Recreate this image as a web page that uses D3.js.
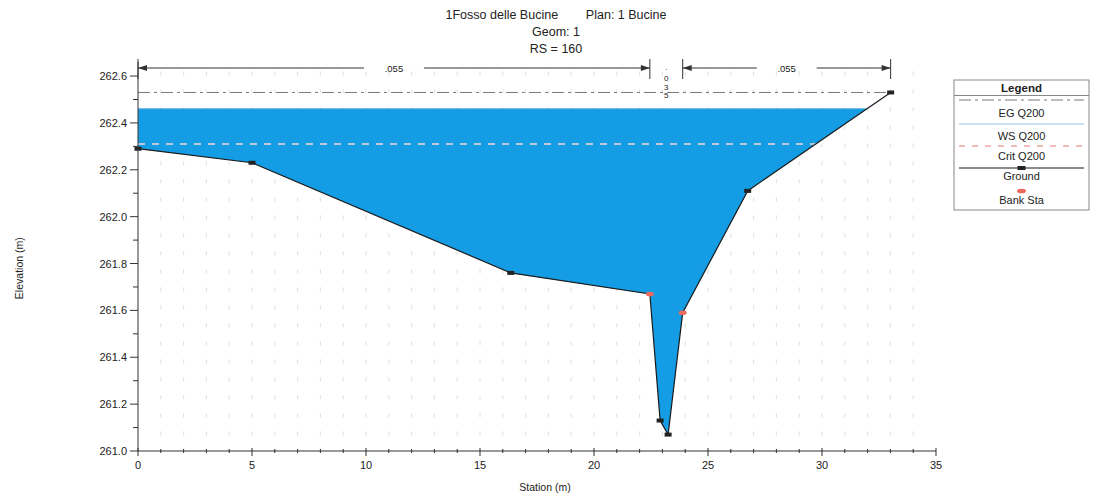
<!DOCTYPE html>
<html><head><meta charset="utf-8">
<script src="https://cdn.jsdelivr.net/npm/d3@7"></script>
<style>
body{margin:0;background:#fff;}
text{font-family:"Liberation Sans",Arial,sans-serif;fill:#222;}
</style></head>
<body><svg id="c" width="1094" height="499"></svg>
<script>
// ---- data ----
const titleLines = ["1Fosso delle Bucine        Plan: 1 Bucine", "Geom: 1", "RS = 160"];
const groundStation = [0, 5.0, 16.35, 22.45, 22.9, 23.25, 23.89, 26.74, 33.01];
const groundElev = [262.29, 262.23, 261.76, 261.67, 261.13, 261.07, 261.59, 262.11, 262.53];
const bankStations = [22.45, 23.89];
const wsElev = 262.46;
const egElev = 262.53;
const critElev = 262.31;
const nStations = [0, 22.45, 23.89, 33.01];
const nValues = [".055", ".035", ".055"];
const xTicks = [0, 5, 10, 15, 20, 25, 30, 35];
const yTicks = [261.0, 261.2, 261.4, 261.6, 261.8, 262.0, 262.2, 262.4, 262.6];
const legendLabels = ["EG Q200", "WS Q200", "Crit Q200", "Ground", "Bank Sta"];

const svg = d3.select("#c");
const x = d3.scaleLinear().domain([0, 35]).range([138, 936]);
const y = d3.scaleLinear().domain([261.0, 262.66]).range([451, 62]);

const ground = groundStation.map((s, i) => ({s, e: groundElev[i]}));

// intersection of horizontal level with ground (rightmost crossing)
function crossRight(level) {
  for (let i = ground.length - 2; i >= 0; i--) {
    const a = ground[i], b = ground[i + 1];
    if ((a.e - level) * (b.e - level) <= 0 && a.e !== b.e) {
      return a.s + (level - a.e) / (b.e - a.e) * (b.s - a.s);
    }
  }
  return ground[ground.length - 1].s;
}

// title
titleLines.forEach((t, i) => {
  svg.append("text").attr("x", 556).attr("y", 19 + i * 17).attr("text-anchor", "middle")
    .attr("font-size", 12.5).style("white-space", "pre").text(t);
});

// grid (faint vertical dotted)
const g = svg.append("g");
d3.range(1, 35).forEach(v => {
  g.append("line").attr("x1", x(v)).attr("x2", x(v)).attr("y1", y(262.62)).attr("y2", y(261.0))
    .attr("stroke", "#d6d6d6").attr("stroke-width", 0.8).attr("stroke-dasharray", "4,14");
});

// water fill
const wsRight = crossRight(wsElev);
const poly = [{s: 0, e: wsElev}];
ground.forEach(p => { if (p.s < wsRight && p.e < wsElev) poly.push(p); });
poly.push({s: wsRight, e: wsElev});
svg.append("path").datum(poly)
  .attr("d", d3.line().x(d => x(d.s)).y(d => y(d.e)).curve(d3.curveLinearClosed))
  .attr("fill", "#149ce4").attr("stroke", "none");
svg.append("line").attr("x1", x(0)).attr("x2", x(wsRight)).attr("y1", y(wsElev)).attr("y2", y(wsElev))
  .attr("stroke", "#4aa8d8").attr("stroke-width", 1);

// crit line
const critRight = crossRight(critElev);
svg.append("line").attr("x1", x(0)).attr("x2", x(critRight)).attr("y1", y(critElev)).attr("y2", y(critElev))
  .attr("stroke", "#f1d6d2").attr("stroke-width", 1.4).attr("stroke-dasharray", "7,7");

// EG line
svg.append("line").attr("x1", x(0)).attr("x2", x(groundStation[groundStation.length - 1])).attr("y1", y(egElev)).attr("y2", y(egElev))
  .attr("stroke", "#7a7a7a").attr("stroke-width", 1).attr("stroke-dasharray", "12,4,3,4");

// ground line
svg.append("path").datum(ground)
  .attr("d", d3.line().x(d => x(d.s)).y(d => y(d.e)))
  .attr("fill", "none").attr("stroke", "#1a1a1a").attr("stroke-width", 1.2);
svg.selectAll(".gm").data(ground.filter(p => !bankStations.includes(p.s))).enter().append("rect")
  .attr("x", d => x(d.s) - 3.5).attr("y", d => y(d.e) - 2).attr("width", 7).attr("height", 4)
  .attr("fill", "#222");
svg.selectAll(".bm").data(ground.filter(p => bankStations.includes(p.s))).enter().append("ellipse")
  .attr("cx", d => x(d.s)).attr("cy", d => y(d.e)).attr("rx", 4).attr("ry", 2.3)
  .attr("fill", "#ec6a5e");

// axes
const xAxis = svg.append("g").attr("transform", `translate(0,${y(261.0)})`);
xAxis.append("line").attr("x1", x(0)).attr("x2", x(35)).attr("stroke", "#333");
d3.range(0, 36).forEach(v => {
  const major = v % 5 === 0;
  xAxis.append("line").attr("x1", x(v)).attr("x2", x(v)).attr("y1", major ? -3 : -2).attr("y2", major ? 5 : 2).attr("stroke", "#333");
});
xTicks.forEach(v => {
  xAxis.append("text").attr("x", x(v)).attr("y", 18).attr("text-anchor", "middle").attr("font-size", 11).text(v);
});
svg.append("text").attr("x", 545).attr("y", 491).attr("text-anchor", "middle").attr("font-size", 10.5).text("Station (m)");

const yAxis = svg.append("g").attr("transform", `translate(${x(0)},0)`);
yAxis.append("line").attr("y1", y(261.0)).attr("y2", y(262.66)).attr("stroke", "#333");
d3.range(0, 17).forEach(i => {
  const v = 261.0 + i * 0.1;
  const major = i % 2 === 0;
  yAxis.append("line").attr("x1", major ? -8 : -5).attr("x2", 0).attr("y1", y(v)).attr("y2", y(v)).attr("stroke", "#333");
});
yTicks.forEach(v => {
  yAxis.append("text").attr("x", -11).attr("y", y(v) + 4).attr("text-anchor", "end").attr("font-size", 11).text(v.toFixed(1));
});
svg.append("text").attr("transform", `translate(23,${y(261.78)}) rotate(-90)`).attr("text-anchor", "middle")
  .attr("font-size", 10.5).text("Elevation (m)");

// Manning's n markers
const nY = 68;
nStations.forEach(s => {
  svg.append("line").attr("x1", x(s)).attr("x2", x(s)).attr("y1", 59).attr("y2", 79).attr("stroke", "#333");
});
function arrowHead(px, dir) {
  svg.append("path").attr("d", `M${px},${nY} l${-dir * 9},-3 l0,6 z`).attr("fill", "#333");
}
nValues.forEach((t, i) => {
  const a = x(nStations[i]), b = x(nStations[i + 1]);
  const mid = (a + b) / 2;
  if (b - a > 60) {
    svg.append("line").attr("x1", a).attr("x2", mid - 30).attr("y1", nY).attr("y2", nY).attr("stroke", "#333");
    svg.append("line").attr("x1", mid + 30).attr("x2", b).attr("y1", nY).attr("y2", nY).attr("stroke", "#333");
    arrowHead(a, -1); arrowHead(b, 1);
    svg.append("text").attr("x", mid).attr("y", nY + 4).attr("text-anchor", "middle").attr("font-size", 9.5).text(t);
  } else {
    // vertical stacked label, one character per line
    const chars = t.split("");
    const pos = [70, 81, 89.5, 98];
    chars.forEach((ch, k) => {
      svg.append("text").attr("x", mid).attr("y", pos[k]).attr("text-anchor", "middle")
        .attr("font-size", 8).text(ch);
    });
  }
});

// legend
const L = svg.append("g");
const lx = 954, lw = 135, ly = 80, lh = 130;
L.append("rect").attr("x", lx).attr("y", ly).attr("width", lw).attr("height", lh).attr("fill", "#fff").attr("stroke", "#888");
L.append("text").attr("x", lx + lw / 2).attr("y", ly + 12).attr("text-anchor", "middle").attr("font-size", 11.5).attr("font-weight", "bold").text("Legend");
L.append("line").attr("x1", lx).attr("x2", lx + lw).attr("y1", ly + 15.5).attr("y2", ly + 15.5).attr("stroke", "#888");
const symY = [100, 124, 146, 168, 191];
const txtY = [117, 140, 160, 180, 204];
const lx1 = lx + 5, lx2 = lx + lw - 5, lmid = lx + lw / 2;
L.append("line").attr("x1", lx1).attr("x2", lx2).attr("y1", symY[0]).attr("y2", symY[0]).attr("stroke", "#7a7a7a").attr("stroke-dasharray", "12,4,3,4");
L.append("line").attr("x1", lx1).attr("x2", lx2).attr("y1", symY[1]).attr("y2", symY[1]).attr("stroke", "#8fc6e0");
L.append("line").attr("x1", lx1).attr("x2", lx2).attr("y1", symY[2]).attr("y2", symY[2]).attr("stroke", "#f0a8a0").attr("stroke-width", 1.4).attr("stroke-dasharray", "6,7");
L.append("line").attr("x1", lx1).attr("x2", lx2).attr("y1", symY[3]).attr("y2", symY[3]).attr("stroke", "#1a1a1a").attr("stroke-width", 1.2);
L.append("rect").attr("x", lmid - 4).attr("y", symY[3] - 2).attr("width", 8).attr("height", 4).attr("fill", "#222");
L.append("ellipse").attr("cx", lmid).attr("cy", symY[4]).attr("rx", 4.5).attr("ry", 2.3).attr("fill", "#ec6a5e");
legendLabels.forEach((t, i) => {
  L.append("text").attr("x", lmid).attr("y", txtY[i]).attr("text-anchor", "middle").attr("font-size", 11).text(t);
});
</script></body></html>
